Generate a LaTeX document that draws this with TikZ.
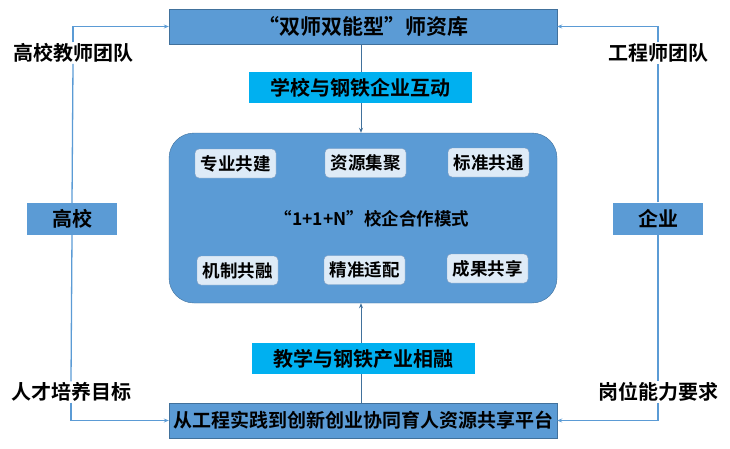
\documentclass[tikz,border=0pt]{standalone}
\usepackage{fontspec}
\setmainfont{Noto Sans CJK SC}[BoldFont={Noto Sans CJK SC Bold}]
\usetikzlibrary{arrows.meta}

\definecolor{boxblue}{HTML}{5B9BD5}
\definecolor{edgeblue}{HTML}{41719C}
\definecolor{skyband}{HTML}{00B0F0}
\definecolor{palebox}{HTML}{DEEBF7}
\definecolor{paleedge}{HTML}{7F9CC0}

\tikzset{
    mainbox/.style={draw=edgeblue, fill=boxblue, minimum width=388pt, minimum height=35pt,
        inner xsep=2pt, font=\bfseries\fontsize{19}{22}\selectfont},
    band/.style={fill=skyband, minimum width=223pt, minimum height=31pt,
        font=\bfseries\fontsize{20}{22}\selectfont},
    tag/.style={draw=paleedge, fill=palebox, rounded corners=4pt, minimum width=81pt,
        minimum height=29pt, inner sep=1pt, font=\bfseries\fontsize{17.5}{20}\selectfont},
    side/.style={fill=boxblue, minimum width=90pt, minimum height=32pt,
        font=\bfseries\fontsize{20}{22}\selectfont},
    note/.style={fill=white, inner sep=1pt, font=\bfseries\fontsize{20}{22}\selectfont},
    flow/.style={draw=edgeblue, line width=1pt, -{Stealth[length=5pt,width=4pt]}},
    link/.style={draw=boxblue, line width=1.3pt}
}

\begin{document}
\begin{tikzpicture}[x=1pt, y=-1pt]
    \useasboundingbox (0,0) rectangle (730,448);

    % Main boxes
    \node[mainbox, font=\bfseries\fontsize{21}{24}\selectfont] (pool) at (363,26.5) {“双师双能型”师资库};
    \node[mainbox] (platform) at (363,420.5) {从工程实践到创新创业协同育人资源共享平台};
    \node[draw=edgeblue, fill=boxblue, rounded corners=25pt, minimum width=388pt,
        minimum height=170pt] (mode) at (363,218) {};
    \node[font=\bfseries\fontsize{17.5}{20}\selectfont] (modetext) at (372,219) {“1+1+N”校企合作模式};

    % Tags inside the mode box
    \node[tag] (zy) at (235.5,163.5) {专业共建};
    \node[tag] (zyjj) at (365.5,163) {资源集聚};
    \node[tag] (bz) at (488.5,162.5) {标准共通};
    \node[tag] (jz) at (237.5,270.5) {机制共融};
    \node[tag] (jp) at (364.5,270) {精准适配};
    \node[tag] (cg) at (487.5,268.5) {成果共享};

    % Centre arrows
    \draw[flow] (pool.south -| 361,0) -- (mode.north -| 361,0);
    \draw[flow] (platform.north -| 361,0) -- (mode.south -| 361,0);
    \node[band] (hd) at (360.5,87.5) {学校与钢铁企业互动};
    \node[band] (rh) at (363,358.5) {教学与钢铁产业相融};

    % Sides
    \node[side] (gx) at (72,219) {高校};
    \node[side] (qy) at (658,218.5) {企业};
    \node[note] (gxtd) at (73,53) {高校教师团队};
    \node[note] (rcmb) at (71,392) {人才培养目标};
    \node[note] (gcs) at (658,53) {工程师团队};
    \node[note] (gwnl) at (658,392) {岗位能力要求};

    % Side links
    \draw[link] (gx.north) -- (gxtd.south);
    \draw[link, -{Stealth[length=5pt,width=4pt]}] (gxtd.north) |- (pool.west);
    \draw[link] (gx.south) -- (rcmb.north);
    \draw[link, -{Stealth[length=5pt,width=4pt]}] (rcmb.south) |- (platform.west);
    \draw[link] (qy.north) -- (gcs.south);
    \draw[link, -{Stealth[length=5pt,width=4pt]}] (gcs.north) |- (pool.east);
    \draw[link] (qy.south) -- (gwnl.north);
    \draw[link, -{Stealth[length=5pt,width=4pt]}] (gwnl.south) |- (platform.east);
\end{tikzpicture}
\end{document}
